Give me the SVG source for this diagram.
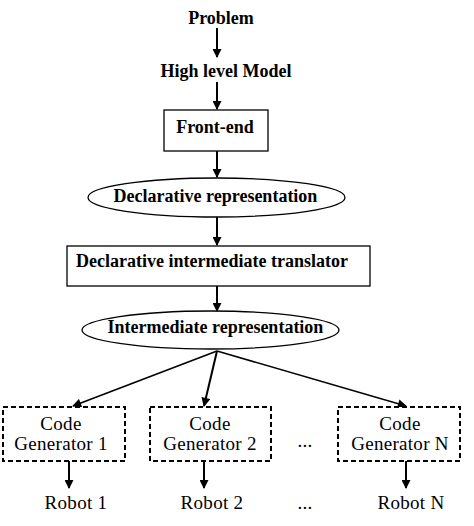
<svg xmlns="http://www.w3.org/2000/svg" width="474" height="526" viewBox="0 0 474 526">
<defs>
<style>
.b{font-family:"Liberation Serif","Times New Roman",serif;font-weight:bold;font-size:18px;fill:#000;text-anchor:middle}
.r{font-family:"Liberation Serif","Times New Roman",serif;font-size:19px;letter-spacing:0.3px;fill:#000;text-anchor:middle}
.shape{fill:#fff;stroke:#000;stroke-width:1.3}
.dash{fill:#fff;stroke:#000;stroke-width:2;stroke-dasharray:5,3}
.edge{stroke:#000;stroke-width:2;fill:none;marker-end:url(#ah)}
.thin{stroke-width:1.6}
</style>
<marker id="ah" viewBox="0 0 10 10" refX="9" refY="5" markerWidth="10" markerHeight="9" orient="auto" markerUnits="userSpaceOnUse">
<path d="M0,0 L10,5 L0,10 z" fill="#000"/>
</marker>
</defs>
<rect width="474" height="526" fill="#fff"/>
<g id="connectors">
<line class="edge" x1="217" y1="28" x2="217" y2="57"/>
<line class="edge" x1="217" y1="82" x2="217" y2="109"/>
<line class="edge" x1="217" y1="151" x2="217" y2="177"/>
<line class="edge" x1="217" y1="217" x2="217" y2="245"/>
<line class="edge" x1="217" y1="286" x2="217" y2="311"/>
<line class="edge thin" x1="217" y1="351" x2="73" y2="406"/>
<line class="edge" x1="217" y1="351" x2="204" y2="406"/>
<line class="edge thin" x1="217" y1="351" x2="406" y2="406"/>
<line class="edge" x1="69" y1="461" x2="69" y2="488"/>
<line class="edge" x1="204" y1="461" x2="204" y2="488"/>
<line class="edge" x1="406" y1="461" x2="406" y2="488"/>
</g>
<g id="problem"><text class="b" x="221" y="24">Problem</text></g>
<g id="high-level-model"><text class="b" x="226" y="77">High level Model</text></g>
<g id="front-end"><rect class="shape" x="164" y="110" width="104" height="41"/><text class="b" x="215" y="133">Front-end</text></g>
<g id="declarative-representation"><ellipse class="shape" cx="216.5" cy="197.5" rx="128.5" ry="19.5"/><text class="b" x="215.5" y="202">Declarative representation</text></g>
<g id="translator"><rect class="shape" x="67" y="246" width="303" height="40"/><text class="b" x="76" y="267" style="text-anchor:start">Declarative intermediate translator</text></g>
<g id="intermediate-representation"><ellipse class="shape" cx="210.5" cy="330" rx="128.5" ry="19"/><text class="b" x="215.5" y="333">Intermediate representation</text></g>
<g id="code-generator-1"><rect class="dash" x="3" y="407" width="122" height="54"/><text class="r" x="61" y="430">Code</text><text class="r" x="61" y="450">Generator 1</text></g>
<g id="code-generator-2"><rect class="dash" x="150" y="407" width="121" height="54"/><text class="r" x="210" y="430">Code</text><text class="r" x="210" y="450">Generator 2</text></g>
<g id="dots-1"><text class="r" x="305" y="447">...</text></g>
<g id="code-generator-n"><rect class="dash" x="338" y="407" width="122" height="54"/><text class="r" x="400" y="430">Code</text><text class="r" x="400" y="450">Generator N</text></g>
<g id="robot-1"><text class="r" x="76" y="509">Robot  1</text></g>
<g id="robot-2"><text class="r" x="212" y="509">Robot  2</text></g>
<g id="dots-2"><text class="r" x="305" y="509">...</text></g>
<g id="robot-n"><text class="r" x="411" y="509">Robot  N</text></g>
</svg>
